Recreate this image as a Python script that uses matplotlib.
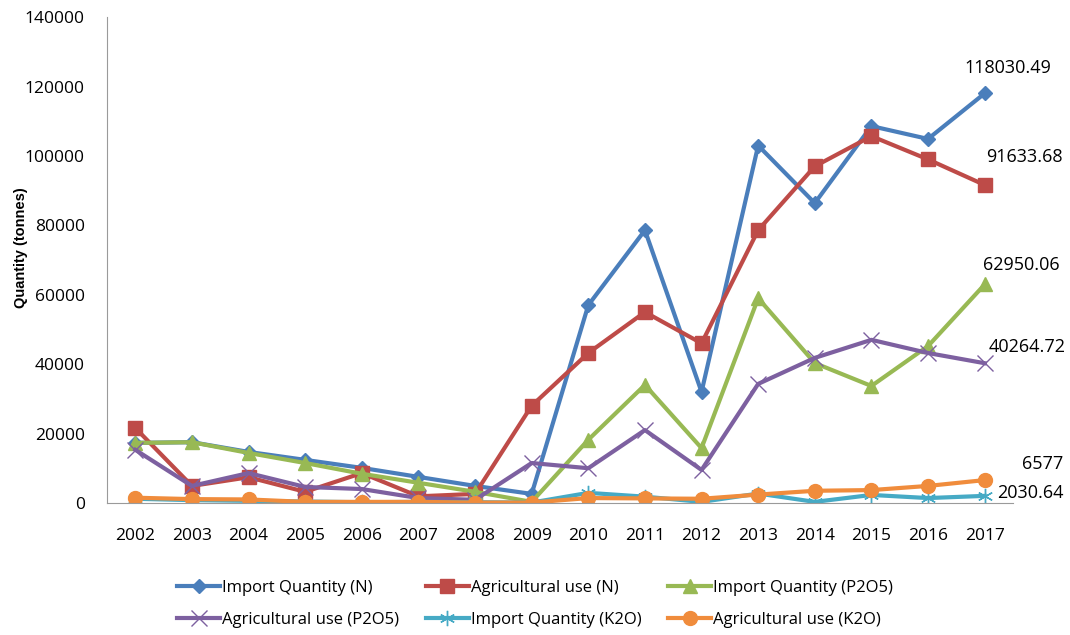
import matplotlib
matplotlib.use("Agg")
import matplotlib.pyplot as plt
import numpy as np

years = ["2002", "2003", "2004", "2005", "2006", "2007", "2008", "2009",
         "2010", "2011", "2012", "2013", "2014", "2015", "2016", "2017"]

import_n = [17300, 17500, 14700, 12400, 10100, 7500, 4900, 2600,
            57000, 78600, 32000, 103000, 86400, 108600, 104900, 118030.49]
agri_n = [21600, 4900, 7400, 3200, 8600, 1900, 2600, 28000,
          43200, 55000, 46000, 78600, 97000, 105700, 99000, 91633.68]
import_p = [17300, 17500, 14400, 11500, 8400, 5800, 3200, 300,
            18200, 34000, 15800, 59000, 40300, 33700, 45200, 62950.06]
agri_p = [15300, 4900, 8600, 4600, 4000, 1400, 900, 11500,
          10000, 21000, 9500, 34300, 41800, 47000, 43200, 40264.72]
import_k = [1200, 800, 600, 400, 200, 300, 200, 100,
            2900, 1800, 300, 2700, 300, 2300, 1400, 2030.64]
agri_k = [1500, 1100, 1000, 300, 300, 300, 100, 100,
          1400, 1300, 1200, 2400, 3500, 3700, 4900, 6577]

labels = ["Import Quantity (N)", "Agricultural use (N)", "Import Quantity (P2O5)",
          "Agricultural use (P2O5)", "Import Quantity (K2O)", "Agricultural use (K2O)"]
end_labels = ["118030.49", "91633.68", "62950.06", "40264.72", "2030.64", "6577"]

plt.rcParams['font.family'] = ['Open Sans', 'DejaVu Sans']

fig = plt.figure(figsize=(10.7, 6.35), dpi=100)
ax = fig.add_axes([0.1, 0.208, 0.8467, 0.765])

x = np.arange(len(years))
series = [import_n, agri_n, import_p, agri_p, import_k, agri_k]
colors = ["#4A7EBB", "#BE4B48", "#98B954", "#7D60A0", "#46AAC5", "#F08C3C"]
markers = ["D", "s", "^", "x", "*", "o"]
msizes = [7, 10, 10, 11, 11, 10]
handles = []
for s, c, m, ms, lab in zip(series, colors, markers, msizes, labels):
    kw = dict(color=c, lw=3, marker=m, markersize=ms, label=lab)
    if m == "x":
        kw.update(markeredgewidth=1.0)
    if m == "*":
        kw.update(marker=(6, 2, 0), markeredgewidth=1.0, markeredgecolor=c)
    h, = ax.plot(x, s, **kw)
    handles.append(h)

ax.set_xlim(-0.5, len(years) - 0.5)
ax.set_ylim(0, 140000)
ax.set_yticks(np.arange(0, 140001, 20000))
ax.set_yticklabels([str(v) for v in range(0, 140001, 20000)])
ax.set_xticks(x)
ax.set_xticklabels(years)
ax.tick_params(axis='both', labelsize=12.5, colors='#000000', length=0)
ax.tick_params(axis='x', pad=18)
ax.tick_params(axis='y', pad=16)
for sp in ["top", "right"]:
    ax.spines[sp].set_visible(False)
for sp in ["left", "bottom"]:
    ax.spines[sp].set_color('#9a9a9a')
ax.set_ylabel("Quantity (tonnes)", fontsize=10.5, fontweight='bold',
              family=['Liberation Sans', 'DejaVu Sans'])
ax.yaxis.set_label_coords(-0.087, 0.525)

# end value labels
ann_pos = [(1008, 68), (1024, 157), (1021, 265), (1027, 347), (1030, 493), (1043, 464)]
for (px, py), t in zip(ann_pos, end_labels):
    fig.text(px / 1070, 1 - py / 635, t, ha='center', va='center', fontsize=13)

order = [0, 3, 1, 4, 2, 5]
fig.legend([handles[i] for i in order], [labels[i] for i in order],
           loc='center', bbox_to_anchor=(0.5, 1 - 604 / 635), ncol=3,
           frameon=False, fontsize=12, handlelength=2.6, columnspacing=1.6,
           handletextpad=0.1, labelspacing=0.95)

fig.savefig("out.png", dpi=100)
